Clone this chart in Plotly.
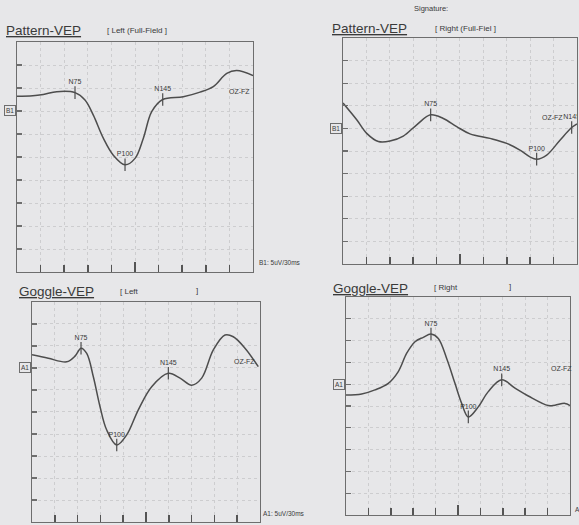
import plotly.graph_objects as go

# ---------------- data (latency ms, amplitude uV relative to baseline) ----------------
# Pattern-VEP Left (Full-Field)
pl_t = [0, 20, 33.4, 50.5, 73.7, 86.4, 97.0, 109.7, 122.4, 137.3, 150.0, 160.6, 171.2, 185.2, 211.4, 232.6, 249.5, 266.6, 279.3, 300.0]
pl_v = [3.2, 3.3, 3.6, 4.2, 4.0, 2.4, -0.9, -5.9, -9.6, -11.7, -10.3, -5.9, -0.15, 2.5, 3.1, 4.1, 5.3, 8.2, 8.8, 7.7]
pl_peaks = ["N75", "P100", "N145"]
pl_pt = [73.7, 137.3, 185.2]
pl_pv = [4.0, -11.7, 2.5]

# Pattern-VEP Right (Full-Field)
pr_t = [0, 17.6, 30.4, 45.3, 60.3, 77.3, 94.5, 112.4, 128.6, 145.8, 162.8, 188.5, 209.9, 226.9, 239.7, 248.3, 261.2, 278.2, 293.2, 300.0]
pr_v = [5.6, 1.9, -1.1, -2.9, -2.8, -1.7, 0.8, 3.0, 2.2, 0.4, -1.2, -2.2, -3.3, -4.8, -6.3, -6.8, -5.9, -2.6, 0.2, 1.0]
pr_peaks = ["N75", "P100", "N145"]
pr_pt = [112.4, 248.3, 293.2]
pr_pv = [3.0, -6.8, 0.2]

# Goggle-VEP Left
gl_t = [0, 21.4, 45.7, 56.6, 64.5, 72.0, 80.7, 89.5, 98.3, 111.5, 124.6, 139.9, 157.5, 179.4, 194.8, 210.2, 223.3, 238.6, 254.0, 264.9, 280.3, 297.8]
gl_v = [3.0, 2.2, 1.4, 2.7, 4.5, 3.3, -2.0, -8.8, -14.1, -17.5, -15.2, -9.5, -4.25, -1.2, -2.3, -3.9, -2.3, 4.1, 7.5, 7.1, 4.5, 0.3]
gl_peaks = ["N75", "P100", "N145"]
gl_pt = [64.5, 111.5, 179.4]
gl_pv = [4.5, -17.5, -1.2]

# Goggle-VEP Right
gr_t = [0, 21.0, 38.8, 56.6, 70.0, 81.3, 92.4, 103.5, 113.8, 123.6, 134.8, 145.9, 154.9, 163.8, 177.1, 190.5, 208.5, 226.3, 244.1, 270.9, 279.9, 293.2, 300.0]
gr_v = [-2.5, -2.25, -1.3, 0.2, 2.9, 7.1, 9.75, 10.75, 11.5, 10.5, 5.9, 0.2, -4.4, -7.5, -5.2, -1.7, 1.0, -0.9, -2.7, -4.9, -4.8, -4.4, -4.9]
gr_peaks = ["N75", "P100", "N145"]
gr_pt = [113.8, 163.8, 208.5]
gr_pv = [11.5, -7.5, 1.0]

x_div_ticks = [30, 60, 90, 120, 150, 180, 210, 240, 270]
x_mid_tick = [150]

# ---------------- styling ----------------
BG = "#e7e7e9"
TRACE = "#4d4d4d"
FRAME = "#6e6e6e"
GRID = "#cdcdcf"
TXT = "#3a3a3a"
FONT = "Liberation Sans"

panels = [
    dict(t=pl_t, v=pl_v, pk=pl_peaks, pt=pl_pt, pv=pl_pv, xd=[0.0294, 0.437], yd=[0.4819, 0.920], yr=[-35, 15], base="B1"),
    dict(t=pr_t, v=pr_v, pk=pr_peaks, pt=pr_pt, pv=pr_pv, xd=[0.5924, 0.9965], yd=[0.4971, 0.9276], yr=[-30, 20], base="B1"),
    dict(t=gl_t, v=gl_v, pk=gl_peaks, pt=gl_pt, pv=gl_pv, xd=[0.0553, 0.449], yd=[0.0057, 0.4248], yr=[-35, 15], base="A1"),
    dict(t=gr_t, v=gr_v, pk=gr_peaks, pt=gr_pt, pv=gr_pv, xd=[0.5976, 0.9845], yd=[0.019, 0.4343], yr=[-30, 20], base="A1"),
]

fig = go.Figure()
layout = dict(
    width=579, height=525,
    margin=dict(l=0, r=0, t=0, b=0),
    paper_bgcolor=BG, plot_bgcolor=BG,
    showlegend=False,
    font=dict(family=FONT, color=TXT),
)
annotations = []

for i, p in enumerate(panels, start=1):
    xa = "x" if i == 1 else f"x{i}"
    ya = "y" if i == 1 else f"y{i}"
    fig.add_trace(go.Scatter(
        x=p["t"], y=p["v"], xaxis=xa, yaxis=ya, mode="lines",
        line=dict(color=TRACE, width=1.5, shape="spline", smoothing=1.0),
        hoverinfo="skip"))
    fig.add_trace(go.Scatter(
        x=p["pt"], y=p["pv"], xaxis=xa, yaxis=ya, mode="markers+text",
        marker=dict(symbol="line-ns", size=9, line=dict(color=TRACE, width=1.2)),
        text=p["pk"], textposition="top center",
        textfont=dict(size=7, color=TXT, family=FONT),
        hoverinfo="skip"))
    lo, hi = p["yr"]
    ytv = list(range(lo + 5, hi, 5))
    xkey = "xaxis" if i == 1 else f"xaxis{i}"
    ykey = "yaxis" if i == 1 else f"yaxis{i}"
    layout[xkey] = dict(
        domain=p["xd"], anchor=ya, range=[0, 300], fixedrange=True,
        showline=True, mirror=True, linecolor=FRAME, linewidth=1.2,
        ticks="inside", tickvals=x_div_ticks, ticklen=7, tickcolor="#555555", tickwidth=1.5,
        showticklabels=False, zeroline=False,
        showgrid=True, gridcolor=GRID, griddash="dot", gridwidth=1,
    )
    # overlay axis carrying the longer centre tick
    ox = i + 4
    layout[f"xaxis{ox}"] = dict(
        overlaying=xa, anchor=ya, range=[0, 300], fixedrange=True,
        showline=False, ticks="inside", tickvals=x_mid_tick, ticklen=10,
        tickcolor="#555555", tickwidth=1.5, showticklabels=False,
        showgrid=False, zeroline=False,
    )
    fig.add_trace(go.Scatter(x=[], y=[], xaxis=f"x{ox}", yaxis=ya, mode="lines", hoverinfo="skip"))
    layout[ykey] = dict(
        domain=p["yd"], anchor=xa, range=[lo, hi], fixedrange=True,
        showline=True, mirror=True, linecolor=FRAME, linewidth=1.2,
        ticks="inside", tickvals=ytv, ticklen=5, tickcolor=FRAME, tickwidth=1.1,
        showticklabels=False, zeroline=False,
        showgrid=True, gridcolor=GRID, griddash="dot", gridwidth=1,
    )
    # baseline label box
    annotations.append(dict(
        text=p["base"], xref=f"{xa} domain", yref=ya, x=-0.006, y=0,
        xanchor="right", yanchor="middle", showarrow=False,
        font=dict(size=6.5, color=TXT, family=FONT),
        bordercolor=FRAME, borderwidth=1, borderpad=1))

# channel labels
annotations += [
    dict(text="OZ-FZ", xref="x", yref="y", x=283, y=4.3, showarrow=False, font=dict(size=7, color=TXT)),
    dict(text="OZ-FZ", xref="x2", yref="y2", x=268, y=2.4, showarrow=False, font=dict(size=7, color=TXT)),
    dict(text="OZ-FZ", xref="x3", yref="y3", x=280, y=1.4, showarrow=False, font=dict(size=7, color=TXT)),
    dict(text="OZ-FZ", xref="x4", yref="y4", x=288, y=3.7, showarrow=False, font=dict(size=7, color=TXT)),
]

def ptxt(text, px, py, size, anchor="left", color=TXT):
    return dict(text=text, xref="paper", yref="paper", x=px / 579, y=1 - py / 525,
                xanchor=anchor, yanchor="middle", showarrow=False,
                font=dict(size=size, color=color, family=FONT))

ul = '<span style="text-decoration:underline">{}</span>'
annotations += [
    ptxt("Signature:", 412, 8, 7.5),
    ptxt(ul.format("Pattern-VEP"), 4, 31, 13.5),
    ptxt("[ Left (Full-Field ]", 105, 31, 8),
    ptxt(ul.format("Pattern-VEP"), 330, 29, 13.5),
    ptxt("[ Right (Full-Fiel ]", 433, 28, 8),
    ptxt(ul.format("Goggle-VEP"), 17, 291, 13.5),
    ptxt("[ Left", 118, 291, 8),
    ptxt("]", 194, 290, 8),
    ptxt(ul.format("Goggle-VEP"), 331, 288, 13.5),
    ptxt("[ Right", 432, 287, 8),
    ptxt("]", 507, 286, 8),
    ptxt("B1: 5uV/30ms", 257, 262, 6.5),
    ptxt("B1: 5uV/30ms", 577, 258, 6.5),
    ptxt("A1: 5uV/30ms", 261, 513, 6.5),
    ptxt("A1: 5uV/30ms", 573, 509, 6.5),
]
layout["annotations"] = annotations
fig.update_layout(**layout)
fig.write_html("out.html",
               config={"displayModeBar": False, "staticPlot": True},
               post_script="document.body.style.margin='0';document.body.style.overflow='hidden';")
